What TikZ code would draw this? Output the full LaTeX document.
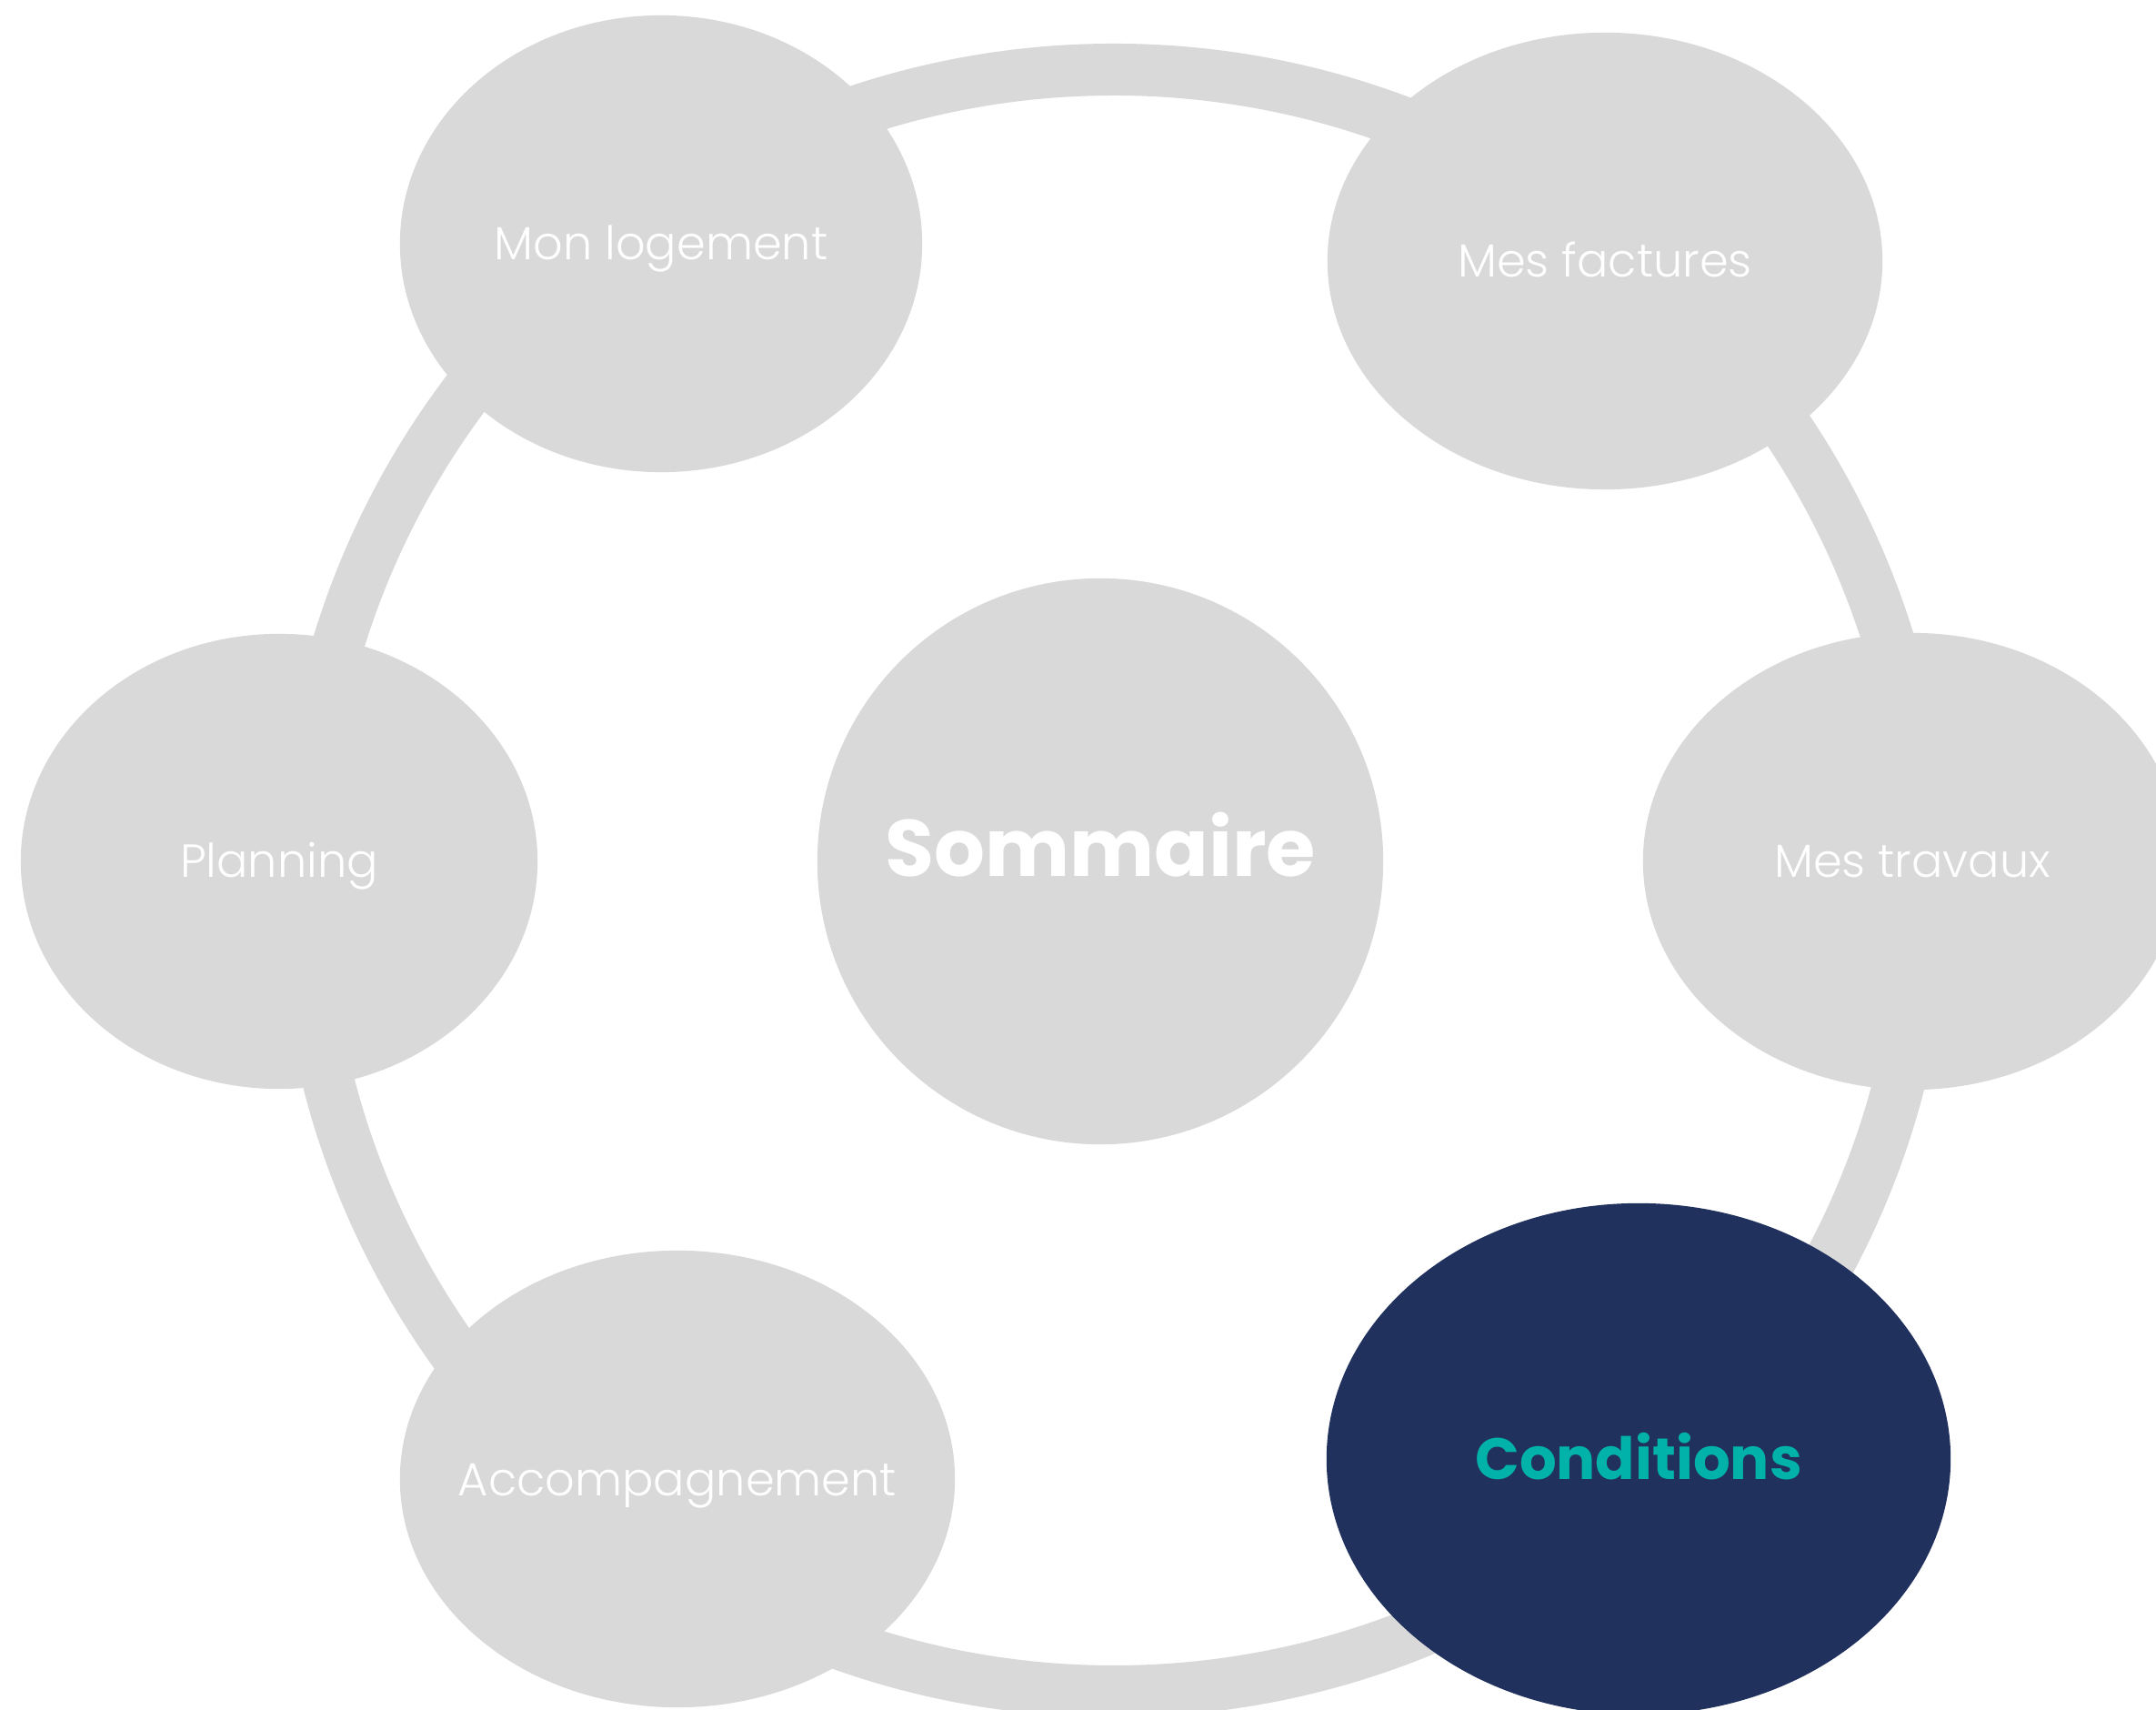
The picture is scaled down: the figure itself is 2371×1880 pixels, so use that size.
\documentclass[tikz,border=0pt]{standalone}
\usepackage{fontspec}
\setmainfont{Poppins}
\newfontfamily\popl{Poppins Light}
\newfontfamily\pop{Poppins}
\usetikzlibrary{shapes.geometric}
\definecolor{ringgray}{HTML}{D9D9D9}
\definecolor{navy}{HTML}{21315E}
\definecolor{teal}{HTML}{00B2A9}
\begin{document}
\begin{tikzpicture}[x=0.01cm,y=-0.01cm,
  bubble/.style={ellipse,fill=ringgray,draw=none,inner sep=0pt},
  lbl/.style={inner sep=0pt,text=white,font=\popl\fontsize{14.5pt}{17pt}\selectfont,
    text height=0.36cm,text depth=0pt},
  ring/.style={draw=ringgray,line width=0.57cm}]
\useasboundingbox (0,0) rectangle (2371,1880);
\fill[white] (0,0) rectangle (2371,1880);
\coordinate (rc) at (1225,968);
\draw[ring] (rc) circle[radius=8.91cm];
\node[bubble,minimum width=5.74cm,minimum height=5.02cm] (loge) at (727,268) {};
\node[bubble,minimum width=6.10cm,minimum height=5.02cm] (fact) at (1765,287) {};
\node[bubble,minimum width=5.92cm,minimum height=5.02cm] (trav) at (2103,947) {};
\node[bubble,minimum width=5.68cm,minimum height=5.00cm] (plan) at (307,947) {};
\node[bubble,minimum width=6.10cm,minimum height=5.02cm] (acc) at (745,1626) {};
\node[lbl] (logeT) at (loge.center) {Mon logement};
\node[lbl] (factT) at (fact.center) {Mes factures};
\node[lbl] (travT) at (trav.center) {Mes travaux};
\node[lbl] (planT) at (plan.center) {Planning};
\node[lbl] (accT) at (acc.center) {Accompagnement};
\node[ellipse,fill=navy,inner sep=0pt,minimum width=6.86cm,minimum height=5.62cm] (cond) at (1802,1604) {};
\node[inner sep=0pt,text=teal,font=\pop\bfseries\fontsize{18.2pt}{21pt}\selectfont,
  text height=0.44cm,text depth=0pt] (condT) at (cond.center) {Conditions};
\node[circle,fill=ringgray,inner sep=0pt,minimum size=6.22cm] (som) at (1210,947) {};
\node[text=white,font=\pop\bfseries\fontsize{25pt}{29pt}\selectfont,
  text height=0.6cm,text depth=0pt,inner sep=0pt] (somt) at (1210,933) {Sommaire};
\end{tikzpicture}
\end{document}
